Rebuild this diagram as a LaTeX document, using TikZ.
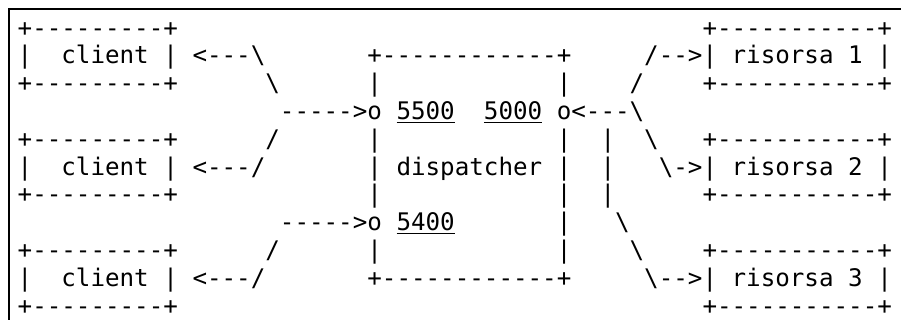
\documentclass[tikz,border=0pt]{standalone}
\usepackage{fontspec}
\setmonofont{DejaVu Sans Mono}
\newcommand\bs{\textbackslash}
% grid of the character cells: left edge, cell width, first baseline, line pitch
\def\xo{17.7}
\def\cw{14.57}
\def\yo{36.2}
\def\lh{27.8}
% one piece of text, placed at character column #2 of text row #3
\newcommand\seg[4]{\node[txt] (#1) at ({\xo+#2*\cw},{-\yo-#3*\lh}) {#4};}
\newcommand\uline[1]{\draw[uline] ([yshift=-2.6pt]#1.base west) -- ([yshift=-2.6pt]#1.base east);}
\begin{document}
\begin{tikzpicture}[x=1pt,y=1pt,
  txt/.style={anchor=base west,inner sep=0pt,outer sep=0pt,
    font=\ttfamily\fontsize{24.2}{28}\selectfont},
  uline/.style={line width=1.1pt},
  frame/.style={line width=2pt}]
\useasboundingbox (0,0) rectangle (901,-320);
\clip (0,0) rectangle (901,-320);
% border of the block, running on past the right and bottom edges
\draw[frame] (8.5,-340) -- (8.5,-9.5) -- (920,-9.5);
% row 0
\seg{cAtop}{0}{0}{+---------+}
\seg{rAtop}{47}{0}{+-----------+}
% row 1
\seg{cA}{0}{1}{|~~client~|}
\seg{aA}{12}{1}{<---\bs}
\seg{dtop}{24}{1}{+------------+}
\seg{aR1}{43}{1}{/-->}
\seg{rA}{47}{1}{|~risorsa~1~|}
% row 2
\seg{cAbot}{0}{2}{+---------+}
\seg{sA}{17}{2}{\bs}
\seg{dl2}{24}{2}{|}
\seg{dr2}{37}{2}{|}
\seg{sR1}{42}{2}{/}
\seg{rAbot}{47}{2}{+-----------+}
% row 3
\seg{in5500}{18}{3}{----->o}
\seg{p5500}{26}{3}{5500}
\seg{p5000}{32}{3}{5000}
\seg{out5000}{37}{3}{o<---\bs}
% row 4
\seg{cBtop}{0}{4}{+---------+}
\seg{sB}{17}{4}{/}
\seg{dl4}{24}{4}{|}
\seg{dr4}{37}{4}{|}
\seg{bus4}{40}{4}{|}
\seg{sR2}{43}{4}{\bs}
\seg{rBtop}{47}{4}{+-----------+}
% row 5
\seg{cB}{0}{5}{|~~client~|}
\seg{aB}{12}{5}{<---/}
\seg{dmid}{24}{5}{|~dispatcher~|}
\seg{bus5}{40}{5}{|}
\seg{aR2}{44}{5}{\bs->}
\seg{rB}{47}{5}{|~risorsa~2~|}
% row 6
\seg{cBbot}{0}{6}{+---------+}
\seg{dl6}{24}{6}{|}
\seg{dr6}{37}{6}{|}
\seg{bus6}{40}{6}{|}
\seg{rBbot}{47}{6}{+-----------+}
% row 7
\seg{in5400}{18}{7}{----->o}
\seg{p5400}{26}{7}{5400}
\seg{dr7}{37}{7}{|}
\seg{sR3a}{41}{7}{\bs}
% row 8
\seg{cCtop}{0}{8}{+---------+}
\seg{sC}{17}{8}{/}
\seg{dl8}{24}{8}{|}
\seg{dr8}{37}{8}{|}
\seg{sR3b}{42}{8}{\bs}
\seg{rCtop}{47}{8}{+-----------+}
% row 9
\seg{cC}{0}{9}{|~~client~|}
\seg{aC}{12}{9}{<---/}
\seg{dbot}{24}{9}{+------------+}
\seg{aR3}{43}{9}{\bs-->}
\seg{rC}{47}{9}{|~risorsa~3~|}
% row 10
\seg{cCbot}{0}{10}{+---------+}
\seg{rCbot}{47}{10}{+-----------+}
% port numbers are underlined
\uline{p5500}
\uline{p5000}
\uline{p5400}
\end{tikzpicture}
\end{document}
